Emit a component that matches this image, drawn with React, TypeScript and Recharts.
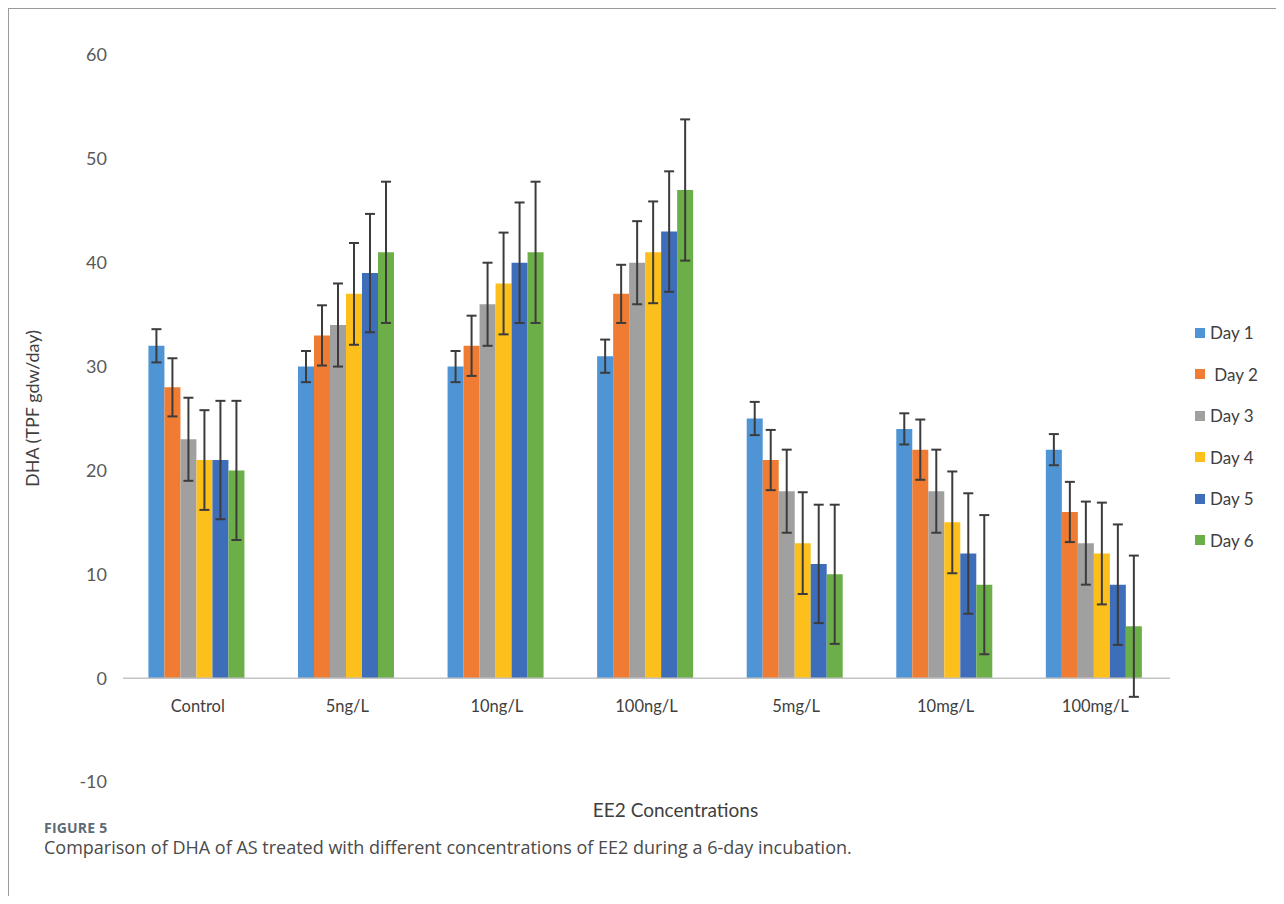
import { BarChart, Bar, XAxis, YAxis, ErrorBar, ReferenceLine, Legend } from "recharts";

const categories = ["Control", "5ng/L", "10ng/L", "100ng/L", "5mg/L", "10mg/L", "100mg/L"];
const dayNames = ["Day 1", " Day 2", "Day 3", "Day 4", "Day 5", "Day 6"];

const day1 = [32, 30, 30, 31, 25, 24, 22];
const day2 = [28, 33, 32, 37, 21, 22, 16];
const day3 = [23, 34, 36, 40, 18, 18, 13];
const day4 = [21, 37, 38, 41, 13, 15, 12];
const day5 = [21, 39, 40, 43, 11, 12, 9];
const day6 = [20, 41, 41, 47, 10, 9, 5];

const err1 = [1.6, 1.5, 1.5, 1.6, 1.6, 1.5, 1.5];
const err2 = [2.8, 2.9, 2.9, 2.8, 2.9, 2.9, 2.9];
const err3 = [4, 4, 4, 4, 4, 4, 4];
const err4 = [4.8, 4.9, 4.9, 4.9, 4.9, 4.9, 4.9];
const err5 = [5.7, 5.7, 5.8, 5.8, 5.7, 5.8, 5.8];
const err6 = [6.7, 6.8, 6.8, 6.8, 6.7, 6.7, 6.8];

const yTicks = [-10, 0, 10, 20, 30, 40, 50, 60];

const colors = ["#4f94d4", "#f07c33", "#a0a0a0", "#fdbf1c", "#3e6eb9", "#6cae48"];

const values = [day1, day2, day3, day4, day5, day6];
const errors = [err1, err2, err3, err4, err5, err6];

const data = categories.map((name, i) => {
  const row: Record<string, string | number> = { name };
  values.forEach((v, d) => {
    row[`d${d + 1}`] = v[i];
    row[`e${d + 1}`] = errors[d][i];
  });
  return row;
});

const font = "Lato, 'Open Sans', sans-serif";

const CategoryTick = ({ x, y, payload }: any) => (
  <text x={x} y={y - 78} textAnchor="middle" fontSize={16.5} fill="#404040" fontFamily={font}>
    {payload.value}
  </text>
);

const XTitle = ({ viewBox }: any) => (
  <text
    x={viewBox.x + viewBox.width / 2 + 29}
    y={viewBox.y + 35}
    textAnchor="middle"
    fontSize={19}
    fill="#404040"
    fontFamily={font}
  >
    EE2 Concentrations
  </text>
);

const YTitle = ({ viewBox }: any) => {
  const cx = viewBox.x + 24;
  const cy = viewBox.y + viewBox.height / 2 - 10;
  return (
    <text
      x={cx}
      y={cy}
      transform={`rotate(-90, ${cx}, ${cy})`}
      textAnchor="middle"
      dominantBaseline="central"
      fontSize={18}
      fill="#404040"
      fontFamily={font}
    >
      DHA (TPF gdw/day)
    </text>
  );
};

const LegendList = () => (
  <div style={{ fontFamily: font, fontSize: 17, color: "#404040" }}>
    {dayNames.map((n, i) => (
      <div key={n} style={{ display: "flex", alignItems: "center", height: 41.5 }}>
        <span style={{ width: 10, height: 10, background: colors[i], marginRight: 5, display: "inline-block" }} />
        <span style={{ whiteSpace: "pre" }}>{n}</span>
      </div>
    ))}
  </div>
);

export default function App() {
  return (
    <div style={{ position: "relative", width: 1276, height: 888 }}>
      <div
        style={{
          position: "absolute",
          left: 0,
          top: 0,
          width: 1276,
          height: 888,
          borderTop: "1.5px solid #9a9a9a",
          borderLeft: "1.5px solid #9a9a9a",
          boxSizing: "border-box",
        }}
      />
      <div style={{ position: "absolute", left: 0, top: 0 }}>
        <BarChart
          width={1276}
          height={830}
          data={data}
          margin={{ top: 47, right: 114, left: 0, bottom: 0 }}
          barCategoryGap="17%"
          barGap={0}
        >
          <XAxis
            dataKey="name"
            height={56}
            axisLine={false}
            tickLine={false}
            tick={<CategoryTick />}
            label={<XTitle />}
          />
          <YAxis
            width={115}
            domain={[-10, 60]}
            ticks={yTicks}
            axisLine={false}
            tickLine={false}
            tickMargin={10}
            tick={{ fontSize: 18, fill: "#595959", fontFamily: font }}
            label={<YTitle />}
          />
          <ReferenceLine y={0} stroke="#c4c4c4" strokeWidth={1.5} />
          {values.map((_, d) => (
            <Bar
              key={d}
              dataKey={`d${d + 1}`}
              name={dayNames[d]}
              fill={colors[d]}
              isAnimationActive={false}
            >
              <ErrorBar dataKey={`e${d + 1}`} width={5} stroke="#3c3c3c" strokeWidth={2} />
            </Bar>
          ))}
          <Legend
            layout="vertical"
            align="center"
            verticalAlign="middle"
            content={<LegendList />}
            wrapperStyle={{ left: 1187, top: 304, width: 80 }}
          />
        </BarChart>
      </div>
      <div style={{ position: "absolute", left: 36, top: 810, fontFamily: "'Open Sans', sans-serif" }}>
        <div style={{ fontSize: 14, fontWeight: 700, color: "#5c6b76", letterSpacing: 0.2 }}>FIGURE 5</div>
        <div style={{ fontSize: 18, color: "#4a4a4a", marginTop: -2 }}>
          Comparison of DHA of AS treated with different concentrations of EE2 during a 6-day incubation.
        </div>
      </div>
    </div>
  );
}
